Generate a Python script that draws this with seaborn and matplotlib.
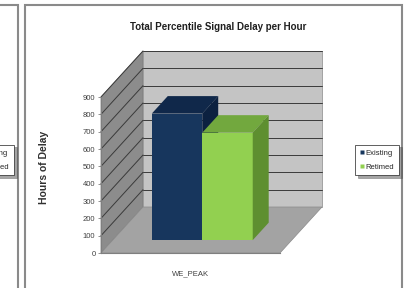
# Excel-style 3D column chart: total percentile signal delay per hour

import pandas as pd
import matplotlib.pyplot as plt
import seaborn as sns
from matplotlib.patches import Polygon, Rectangle
from matplotlib.lines import Line2D
from matplotlib.transforms import Affine2D

periods = ["WE_PEAK"]
scenarios = ["Existing", "Retimed"]
hours = [730, 620]
y_ticks = [0, 100, 200, 300, 400, 500, 600, 700, 800, 900]

front_colors = {"Existing": "#17365d", "Retimed": "#92d050"}
top_colors = {"Existing": "#10284a", "Retimed": "#72a83e"}
side_colors = {"Existing": "#0c2140", "Retimed": "#5e8f30"}

df = pd.DataFrame({"period": periods * len(scenarios), "scenario": scenarios, "hours": hours})

sns.set_style("white")
plt.rcParams["font.family"] = ["Liberation Sans Narrow", "Liberation Sans", "DejaVu Sans"]

fig = plt.figure(figsize=(4.04, 2.88), dpi=100)
ax = fig.add_axes([101 / 404, 35 / 288, 179 / 404, 156 / 288])

sns.barplot(data=df, x="period", y="hours", hue="scenario", hue_order=scenarios,
            palette=front_colors, saturation=1, width=0.564, linewidth=0,
            legend=False, ax=ax)
bars = sorted(ax.patches, key=lambda p: p.get_x())

ax.set_xlim(-0.5, 0.5)
ax.set_ylim(0, 900)

# depth of the 3D box in data units, and where the bars sit inside it
DX, DY = 42 / 179, 46 * 900 / 156
F = 0.28          # depth of the bar front faces
B = 0.38          # depth of the bars themselves

# walls and floor
side = Polygon([(-0.5, 0), (-0.5, 900), (-0.5 + DX, 900 + DY), (-0.5 + DX, DY)],
               closed=True, fc="#8c8c8c", ec="#7a7a7a", lw=0.5, zorder=0.2, clip_on=False)
back = Rectangle((-0.5 + DX, DY), 1, 900, fc="#c4c4c4", ec="#8a8a8a", lw=0.5,
                 zorder=0.2, clip_on=False)
floor = Polygon([(-0.5, 0), (0.5, 0), (0.5 + DX, DY), (-0.5 + DX, DY)],
                closed=True, fc="#a3a3a3", ec="#8a8a8a", lw=0.5, zorder=0.3, clip_on=False)
for p in (side, back, floor):
    ax.add_patch(p)
for v in y_ticks[1:]:
    ax.plot([-0.5, -0.5 + DX], [v, v + DY], color="#3a3a3a", lw=0.7, zorder=0.4, clip_on=False)
    ax.plot([-0.5 + DX, 0.5 + DX], [v + DY, v + DY], color="#3a3a3a", lw=0.7, zorder=0.4, clip_on=False)

# push the bars back into the box and give them tops and sides
shift = Affine2D().translate(F * DX, F * DY) + ax.transData
bx, by = B * DX, B * DY
for i, (bar, name) in enumerate(zip(bars, scenarios)):
    z = 2 + i
    bar.set_transform(shift)
    bar.set_zorder(z)
    bar.set_clip_on(False)
    x, w, h = bar.get_x(), bar.get_width(), bar.get_height()
    top = Polygon([(x, h), (x + w, h), (x + w + bx, h + by), (x + bx, h + by)],
                  closed=True, fc=top_colors[name], lw=0, zorder=z, clip_on=False)
    sidef = Polygon([(x + w, 0), (x + w, h), (x + w + bx, h + by), (x + w + bx, by)],
                    closed=True, fc=side_colors[name], lw=0, zorder=z, clip_on=False)
    top.set_transform(shift)
    sidef.set_transform(shift)
    ax.add_patch(top)
    ax.add_patch(sidef)

ax.patch.set_visible(False)
for s in ("top", "right"):
    ax.spines[s].set_visible(False)
for s in ("left", "bottom"):
    ax.spines[s].set_color("#7f7f7f")
    ax.spines[s].set_linewidth(0.8)

ax.set_yticks(y_ticks)
ax.tick_params(axis="y", left=True, length=2.5, width=0.6, color="#7f7f7f",
               pad=1.5, labelsize=5.5, labelcolor="#404040")
ax.tick_params(axis="x", bottom=False, pad=9, labelsize=5.5, labelcolor="#404040")
ax.set_xlabel("")
ax.set_ylabel("Hours of Delay", fontsize=7.5, fontweight="bold", color="#303030")
ax.yaxis.set_label_coords(-0.29, 0.55)

fig.text(218 / 404, 1 - 27 / 288, "Total Percentile Signal Delay per Hour",
         ha="center", va="center", fontsize=7, fontweight="bold", color="#202020")

# legends: this chart, and the clipped one of the neighbouring chart
handles = [Line2D([], [], ls="none", marker="s", ms=2.5, mec="none", mfc=front_colors[n])
           for n in scenarios]
for cx in (377, -8):
    leg = fig.legend(handles, scenarios, loc="center", bbox_to_anchor=(cx / 404, 1 - 160 / 288),
                     fontsize=5.5, frameon=True, fancybox=False, shadow=True,
                     handlelength=0.5, handletextpad=0.3, borderpad=0.6, labelspacing=0.9,
                     edgecolor="#202020")
    leg.get_frame().set_linewidth(0.5)

# panel borders
fig.add_artist(Rectangle((25 / 404, -0.1), (402 - 25) / 404, 1.1 - 5 / 288,
                         transform=fig.transFigure, fill=False, ec="#8a8a8a", lw=1.5))
fig.add_artist(Rectangle((-0.2, -0.1), 0.2 + 18 / 404, 1.1 - 5 / 288,
                         transform=fig.transFigure, fill=False, ec="#8a8a8a", lw=1.5))

plt.savefig("out.png", dpi=100)
